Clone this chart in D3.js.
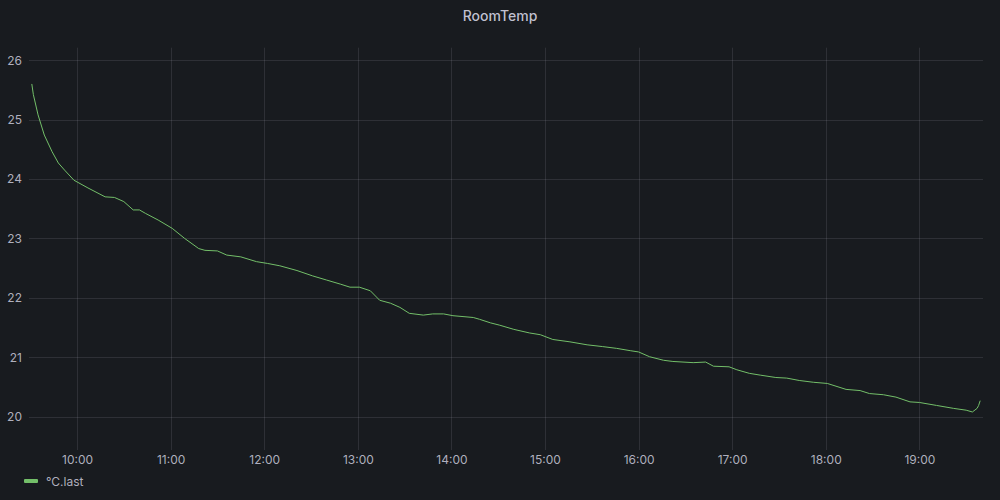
<!DOCTYPE html>
<html><head><meta charset="utf-8">
<script src="https://cdn.jsdelivr.net/npm/d3@7"></script>
<style>
html,body{margin:0;padding:0;background:#181b1f;}
svg{display:block;font-family:Inter,"Noto Sans",sans-serif;}
</style></head>
<body><svg id="c" width="1000" height="500"></svg>
<script>
const title = "RoomTemp";
const seriesName = "°C.last";
const times = ["09:31","09:32","09:35","09:39","09:44","09:48","09:52","09:58","10:07","10:18","10:24","10:30","10:36","10:40","10:44","10:52","11:01","11:09","11:18","11:22","11:30","11:36","11:45","11:55","12:02","12:10","12:21","12:31","12:40","12:49","12:55","13:01","13:08","13:14","13:21","13:27","13:33","13:42","13:48","13:55","14:01","14:14","14:18","14:25","14:31","14:40","14:50","14:57","15:05","15:16","15:27","15:37","15:46","15:55","16:00","16:07","16:16","16:22","16:35","16:43","16:48","16:58","17:03","17:11","17:18","17:28","17:35","17:43","17:52","18:01","18:13","18:22","18:28","18:37","18:45","18:54","19:00","19:11","19:22","19:30","19:34","19:37","19:38","19:39"];
const values = [25.60,25.42,25.08,24.74,24.46,24.27,24.15,23.98,23.85,23.70,23.69,23.62,23.48,23.48,23.42,23.31,23.17,23.00,22.83,22.80,22.79,22.72,22.69,22.61,22.58,22.54,22.46,22.37,22.30,22.23,22.18,22.18,22.12,21.96,21.91,21.84,21.74,21.71,21.73,21.73,21.70,21.67,21.64,21.58,21.54,21.47,21.41,21.38,21.30,21.26,21.21,21.18,21.15,21.11,21.09,21.01,20.95,20.93,20.91,20.92,20.85,20.84,20.79,20.73,20.70,20.66,20.65,20.61,20.58,20.56,20.46,20.44,20.39,20.37,20.33,20.25,20.24,20.19,20.14,20.11,20.08,20.14,20.19,20.27];
const yTicks = [20,21,22,23,24,25,26];
const xTickLabels = ["10:00","11:00","12:00","13:00","14:00","15:00","16:00","17:00","18:00","19:00"];
const xDomain = ["09:29:12","19:40:48"];
const yDomain = [19.44, 26.21];

const parse = s => { const p = s.split(":").map(Number); return new Date(2024,0,1,p[0],p[1],p[2]||0); };
const data = times.map((t,i)=>({t:parse(t), v:values[i]}));

const svg = d3.select("#c");
const W=1000,H=500;
const m = {l:29, r:1000-983, t:47.7, b:500-450};
svg.append("rect").attr("width",W).attr("height",H).attr("fill","#181b1f");

const x = d3.scaleTime().domain(xDomain.map(parse)).range([m.l, W-m.r]);
const y = d3.scaleLinear().domain(yDomain).range([H-m.b, m.t]);

const gridColor = "rgba(204,204,220,0.12)";
const textColor = "rgba(204,204,220,0.85)";

// horizontal grid
svg.append("g").selectAll("line").data(yTicks).join("line")
  .attr("x1",m.l).attr("x2",W-m.r)
  .attr("y1",d=>Math.round(y(d))+0.5).attr("y2",d=>Math.round(y(d))+0.5)
  .attr("stroke",gridColor);
// vertical grid
const xt = xTickLabels.map(parse);
svg.append("g").selectAll("line").data(xt).join("line")
  .attr("x1",d=>Math.round(x(d))+0.5).attr("x2",d=>Math.round(x(d))+0.5)
  .attr("y1",m.t).attr("y2",H-m.b)
  .attr("stroke",gridColor);

// y axis labels
const yAxis = d3.axisLeft(y).tickValues(yTicks).tickSize(0).tickPadding(0).tickFormat(d3.format("d"));
const gy = svg.append("g").attr("transform",`translate(22,0)`).call(yAxis);
gy.select(".domain").remove();
gy.selectAll("text").attr("fill",textColor).attr("font-size",12).attr("font-family","Inter, sans-serif");

// x axis labels
const xAxis = d3.axisBottom(x).tickValues(xt).tickSize(0).tickPadding(0).tickFormat(d3.timeFormat("%H:%M"));
const gx = svg.append("g").attr("transform",`translate(0,${H-m.b+5})`).call(xAxis);
gx.select(".domain").remove();
gx.selectAll("text").attr("fill",textColor).attr("font-size",12).attr("font-family","Inter, sans-serif");

// line
const line = d3.line().x(d=>x(d.t)).y(d=>y(d.v));
svg.append("path").datum(data).attr("d",line).attr("fill","none")
  .attr("stroke","#73bf69").attr("stroke-width",1);

// title
svg.append("text").attr("x",W/2).attr("y",21).attr("text-anchor","middle")
  .attr("fill","rgba(204,204,220,0.95)").attr("font-size",14).attr("font-weight",500).text(title);

// legend
svg.append("rect").attr("x",24).attr("y",479).attr("width",14).attr("height",4).attr("rx",1).attr("fill","#73bf69");
svg.append("text").attr("x",46).attr("y",485.5).attr("fill",textColor).attr("font-size",12).text(seriesName);
</script></body></html>
